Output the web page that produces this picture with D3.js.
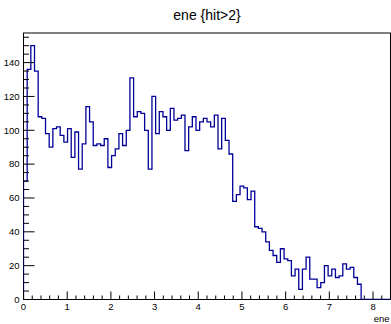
<!DOCTYPE html>
<html>
<head>
<meta charset="utf-8">
<script src="https://cdn.jsdelivr.net/npm/d3@7"></script>
<style>
  body { margin: 0; background: #fff; }
  svg { display: block; font-family: "Liberation Sans", Arial, sans-serif; }
</style>
</head>
<body>
<div id="chart"></div>
<script>
// histogram of ene, 100 bins from 0 to 8.4
let xRange = [0, 8.4];
let binCounts = [
  70, 136, 150, 135, 108, 107, 98, 90, 101, 102,
  97, 93, 101, 84, 99, 77, 92, 114, 105, 91,
  92, 91, 95, 78, 85, 89, 98, 91, 100, 131,
  108, 111, 110, 100, 77, 120, 98, 111, 108, 100,
  113, 106, 107, 109, 88, 102, 108, 100, 105, 107,
  105, 102, 109, 89, 107, 94, 86, 58, 62, 67,
  66, 59, 64, 43, 42, 40, 34, 29, 26, 22,
  30, 24, 23, 14, 18, 6, 18, 25, 12, 12,
  7, 10, 20, 14, 18, 13, 14, 21, 18, 19,
  13, 9, 0, 0, 0, 0, 0, 0, 0, 0
];
let xTicks = [0, 1, 2, 3, 4, 5, 6, 7, 8];
let yTicks = [0, 20, 40, 60, 80, 100, 120, 140];
let titleText = "ene {hit>2}";
let xTitle = "ene";

let width = 391, height = 324;
let frame = {left: 23.5, right: 390.5, top: 33, bottom: 299.5};

let svg = d3.select("#chart").append("svg")
    .attr("width", width)
    .attr("height", height);

let nBins = binCounts.length;
let binW = (xRange[1] - xRange[0]) / nBins;

let x = d3.scaleLinear().domain(xRange).range([frame.left, frame.right]);
// ROOT puts the top at max * 1.05
let y = d3.scaleLinear().domain([0, d3.max(binCounts) * 1.05]).range([frame.bottom, frame.top]);

// frame box
svg.append("rect")
    .attr("x", frame.left)
    .attr("y", frame.top)
    .attr("width", frame.right - frame.left)
    .attr("height", frame.bottom - frame.top)
    .attr("fill", "none")
    .attr("stroke", "#000")
    .attr("stroke-width", 1);

svg.append("clipPath").attr("id", "clip")
    .append("rect")
    .attr("x", frame.left).attr("y", frame.top)
    .attr("width", frame.right - frame.left)
    .attr("height", frame.bottom - frame.top);

// step outline
let pts = [[xRange[0], 0]];
binCounts.forEach(function(v, i) {
    let lo = xRange[0] + i * binW;
    pts.push([lo, v]);
    pts.push([lo + binW, v]);
});
pts.push([xRange[1], 0]);

let line = d3.line()
    .x(function(d) { return x(d[0]); })
    .y(function(d) { return y(d[1]); });

svg.append("path")
    .attr("clip-path", "url(#clip)")
    .attr("d", line(pts))
    .attr("fill", "none")
    .attr("stroke", "#000099")
    .attr("stroke-width", 1.3);

// x axis: major ticks every 1, minor every 0.2, drawn upward
let xMinor = d3.range(0, 42).map(function(i) { return i * 0.2; }).filter(function(v) { return v <= xRange[1]; });
let xAxisG = svg.append("g");
xAxisG.selectAll("line.minor")
    .data(xMinor)
    .enter().append("line")
    .attr("x1", function(d) { return x(d); })
    .attr("x2", function(d) { return x(d); })
    .attr("y1", frame.bottom)
    .attr("y2", function(d, i) { return i % 5 === 0 ? frame.bottom - 8 : frame.bottom - 4; })
    .attr("stroke", "#000");

xAxisG.selectAll("text")
    .data(xTicks)
    .enter().append("text")
    .attr("x", function(d) { return x(d); })
    .attr("y", frame.bottom + 10)
    .attr("text-anchor", "middle")
    .attr("font-size", 9.5)
    .text(function(d) { return d; });

svg.append("text")
    .attr("x", frame.right - 1)
    .attr("y", 322)
    .attr("text-anchor", "end")
    .attr("font-size", 9.5)
    .text(xTitle);

// y axis: major every 20, minor every 5, drawn rightward
let yMinor = d3.range(0, 32).map(function(i) { return i * 5; }).filter(function(v) { return v <= y.domain()[1]; });
let yAxisG = svg.append("g");
yAxisG.selectAll("line")
    .data(yMinor)
    .enter().append("line")
    .attr("x1", frame.left)
    .attr("x2", function(d) { return d % 20 === 0 ? frame.left + 11 : frame.left + 5.5; })
    .attr("y1", function(d) { return y(d); })
    .attr("y2", function(d) { return y(d); })
    .attr("stroke", "#000");

yAxisG.selectAll("text")
    .data(yTicks)
    .enter().append("text")
    .attr("x", frame.left - 4)
    .attr("y", function(d) { return y(d); })
    .attr("dy", "0.35em")
    .attr("text-anchor", "end")
    .attr("font-size", 9.5)
    .text(function(d) { return d; });

// title
svg.append("text")
    .attr("x", 207)
    .attr("y", 19.5)
    .attr("text-anchor", "middle")
    .attr("font-size", 14)
    .text(titleText);
</script>
</body>
</html>
